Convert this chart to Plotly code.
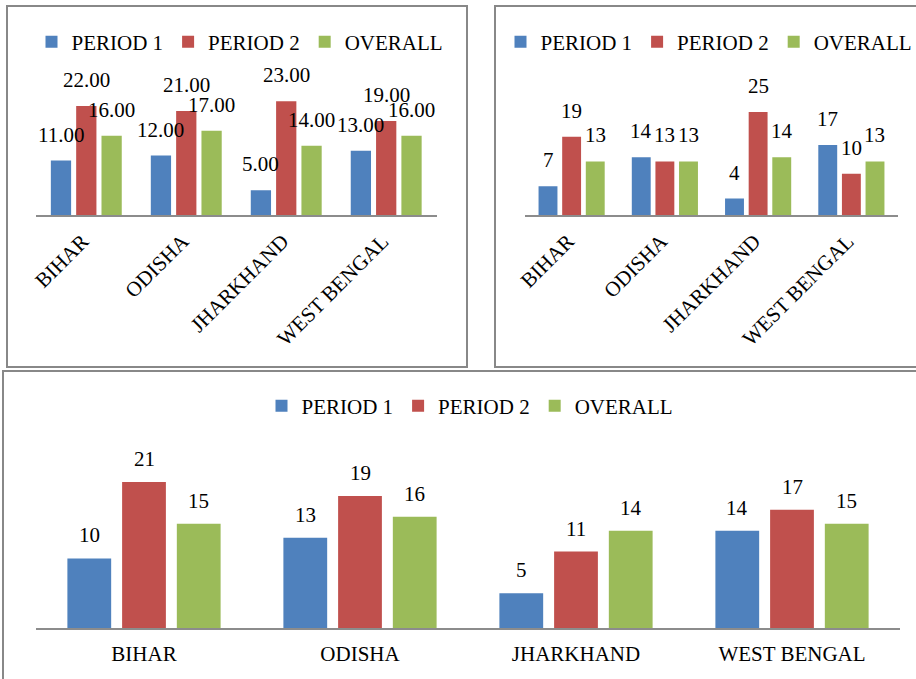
import plotly.graph_objects as go

states = ["BIHAR", "ODISHA", "JHARKHAND", "WEST BENGAL"]
series_names = ["PERIOD 1", "PERIOD 2", "OVERALL"]
colors = ["#4F81BD", "#C0504D", "#9BBB59"]

# top-left chart
tl_p1 = [11, 12, 5, 13]
tl_p2 = [22, 21, 23, 19]
tl_ov = [16, 17, 14, 16]
# top-right chart
tr_p1 = [7, 14, 4, 17]
tr_p2 = [19, 13, 25, 10]
tr_ov = [13, 13, 14, 13]
# bottom chart
bt_p1 = [10, 13, 5, 14]
bt_p2 = [21, 19, 11, 17]
bt_ov = [15, 16, 14, 15]

W, H = 916, 679
FONT = "Liberation Serif"
NB = "\u00a0"

def px(x):
    return x / W

def py(y):
    return 1 - y / H

fig = go.Figure()

panels = [
    dict(series=[tl_p1, tl_p2, tl_ov], fmt="{:.2f}", xa="x", ya="y", legend="legend",
         xdom=[px(36), px(437)], ydom=[py(215), py(66.5)], yr=[0, 30], slot=25.3,
         angle=-45, lshift=12),
    dict(series=[tr_p1, tr_p2, tr_ov], fmt="{:.0f}", xa="x2", ya="y2", legend="legend2",
         xdom=[px(525), px(898)], ydom=[py(215), py(66.5)], yr=[0, 36], slot=23.6,
         angle=-45, lshift=12),
    dict(series=[bt_p1, bt_p2, bt_ov], fmt="{:.0f}", xa="x3", ya="y3", legend="legend3",
         xdom=[px(36), px(900)], ydom=[py(628), py(440.3)], yr=[0, 27], slot=54.7,
         angle=0, lshift=9),
]

annotations = []
for k, p in enumerate(panels):
    for i, (name, vals) in enumerate(zip(series_names, p["series"])):
        fig.add_trace(go.Bar(
            x=states, y=vals, name=name, marker_color=colors[i],
            marker_line_width=0, xaxis=p["xa"], yaxis=p["ya"], legend=p["legend"],
            hoverinfo="skip",
        ))
        for s, v in zip(states, vals):
            annotations.append(dict(
                x=s, y=v, xref=p["xa"], yref=p["ya"], text=p["fmt"].format(v),
                showarrow=False, xshift=(i - 1) * p["slot"], yanchor="bottom",
                yshift=p["lshift"],
                font=dict(family=FONT, size=21, color="black"),
            ))

axis_common = dict(showgrid=False, zeroline=False, showline=False, ticks="",
                   tickfont=dict(family=FONT, size=21, color="black"), fixedrange=True)

fig.update_layout(
    width=W, height=H, margin=dict(l=0, r=0, t=0, b=0, autoexpand=False),
    paper_bgcolor="white", plot_bgcolor="white",
    barmode="group", bargap=0.24, bargroupgap=0.2,
    annotations=annotations,
    font=dict(family=FONT, size=21, color="black"),
)

axnames = [("xaxis", "yaxis"), ("xaxis2", "yaxis2"), ("xaxis3", "yaxis3")]
for k, p in enumerate(panels):
    xn, yn = axnames[k]
    if p["angle"]:
        tick_text = [s + NB for s in states]
        standoff = 0
    else:
        tick_text = states
        standoff = 6
    fig.update_layout({
        xn: dict(axis_common, domain=p["xdom"], anchor=p["ya"], tickangle=p["angle"],
                 showline=True, linecolor="#8C8C8C", linewidth=2,
                 tickmode="array", tickvals=states, ticktext=tick_text,
                 ticklabelstandoff=standoff),
        yn: dict(axis_common, domain=p["ydom"], anchor=p["xa"], range=p["yr"],
                 showticklabels=False),
    })

legend_common = dict(orientation="h", xanchor="center", yanchor="middle",
                     font=dict(family=FONT, size=21, color="black"),
                     bgcolor="rgba(0,0,0,0)", itemclick=False, itemdoubleclick=False,
                     traceorder="normal")
fig.update_layout(
    legend=dict(legend_common, x=px(240), y=py(42)),
    legend2=dict(legend_common, x=px(709), y=py(42)),
    legend3=dict(legend_common, x=px(470), y=py(406)),
)

# panel borders
border = dict(color="#888888", width=2)
fig.add_shape(type="rect", xref="paper", yref="paper", x0=px(7), x1=px(467), y0=py(367), y1=py(6), line=border)
fig.add_shape(type="rect", xref="paper", yref="paper", x0=px(495), x1=px(917), y0=py(367), y1=py(6), line=border)
fig.add_shape(type="rect", xref="paper", yref="paper", x0=px(3), x1=px(917), y0=py(680), y1=py(371), line=border)

fig.write_html("out.html")
